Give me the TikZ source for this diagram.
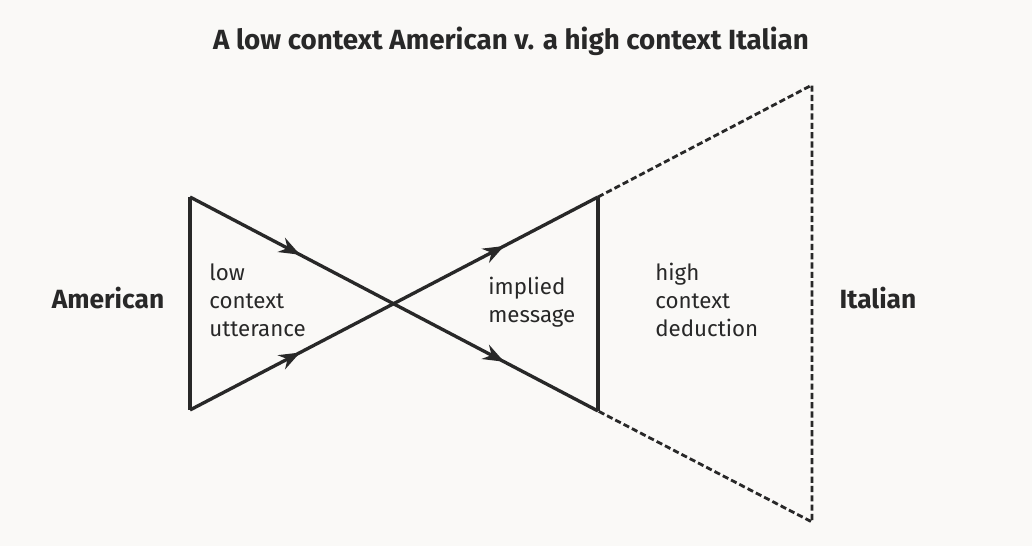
\documentclass[tikz,border=0pt]{standalone}
\usepackage{fontspec}
\setmainfont{Fira Sans}
\usetikzlibrary{arrows.meta,decorations.markings}

\definecolor{ink}{RGB}{40,40,40}
\definecolor{paper}{RGB}{250,249,247}

\tikzset{
  solidline/.style={line width=1.9pt, draw=ink, line join=miter},
  dashline/.style={line width=1.6pt, draw=ink, dash pattern=on 3.5pt off 1.8pt},
  flow/.style={solidline, postaction={decorate}, decoration={markings,
      mark=at position 0.27 with {\arrow{Stealth[length=12pt,width=9pt]}},
      mark=at position 0.77 with {\arrow{Stealth[length=12pt,width=9pt]}}}},
  inner/.style={anchor=west, align=left, inner sep=0pt, text=ink,
      font=\fontsize{12.7}{16}\selectfont},
  side/.style={text=ink, font=\fontsize{15}{18}\selectfont\bfseries}
}

\begin{document}
\begin{tikzpicture}[x=0.02cm, y=-0.02cm]
    % page
    \fill[paper] (0,0) rectangle (1032,546);
    \useasboundingbox (0,0) rectangle (1032,546);

    \node[side, font=\fontsize{15.8}{18}\selectfont\bfseries] (title) at (511,41)
        {A low context American v. a high context Italian};

    % corners
    \coordinate (lt) at (190,197);
    \coordinate (lb) at (190,410);
    \coordinate (mt) at (598,197);
    \coordinate (mb) at (598,411);
    \coordinate (rt) at (812,85);
    \coordinate (rb) at (812,522);

    \draw[solidline] (lt) -- (lb);
    \draw[solidline] (mt) -- (mb);
    \draw[flow] (lt) -- (mb);
    \draw[flow] (lb) -- (mt);

    \draw[dashline] (mt) -- (rt) -- (rb) -- (mb);

    \node[side] (american) at (108,298) {American};
    \node[side] (italian) at (878,298) {Italian};

    \node[inner] (utter) at (209,300) {low\\context\\utterance};
    \node[inner] (implied) at (488,302) {implied\\message};
    \node[inner] (deduct) at (655,300) {high\\context\\deduction};
\end{tikzpicture}
\end{document}
